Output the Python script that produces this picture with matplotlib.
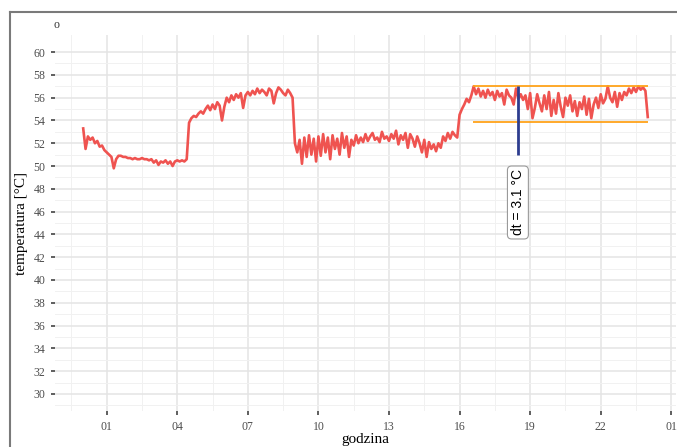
import numpy as np
import matplotlib
matplotlib.use("Agg")
import matplotlib.pyplot as plt
from matplotlib.lines import Line2D

# hourly temperature record, one reading every 6 minutes (hours 0.0 .. 24.0)
hours = np.round(np.arange(0, 241) * 0.1, 1)
temperature = [
    53.3, 51.5, 52.6, 52.3, 52.5, 52.0, 52.2, 51.7, 51.8, 51.4,
    51.2, 51.0, 50.8, 49.8, 50.6, 50.9, 50.9, 50.8, 50.8, 50.7,
    50.7, 50.6, 50.7, 50.6, 50.6, 50.7, 50.6, 50.6, 50.5, 50.6,
    50.3, 50.5, 50.1, 50.4, 50.3, 50.5, 50.2, 50.4, 50.0, 50.4,
    50.5, 50.4, 50.5, 50.4, 50.6, 53.8, 54.2, 54.4, 54.3, 54.6,
    54.8, 54.6, 55.0, 55.3, 54.9, 55.4, 55.0, 55.6, 55.3, 54.0,
    55.2, 56.0, 55.6, 56.2, 55.8, 56.3, 56.0, 56.4, 55.1, 56.2,
    56.5, 56.2, 56.6, 56.3, 56.8, 56.4, 56.7, 56.5, 56.2, 56.8,
    56.6, 55.5, 56.4, 56.9, 56.7, 56.4, 56.2, 56.7, 56.4, 56.0,
    52.0, 51.2, 52.3, 50.2, 52.5, 50.8, 52.7, 51.0, 52.4, 50.4,
    52.6, 50.9, 52.8, 51.2, 52.5, 50.6, 52.7, 51.5, 52.4, 51.0,
    52.9, 51.6, 52.6, 50.8, 52.3, 51.8, 52.7, 52.0, 52.5, 52.1,
    52.8, 52.2, 52.6, 52.9, 52.3, 52.5, 52.1, 53.0, 52.4, 52.6,
    52.2, 52.8, 52.4, 53.1, 51.9, 52.7, 52.3, 52.9, 51.6, 52.8,
    52.4, 51.7, 52.6, 52.0, 51.2, 52.3, 50.8, 52.1, 51.5, 51.9,
    51.3, 52.0, 51.6, 52.6, 52.2, 52.9, 52.4, 53.0, 52.7, 52.5,
    54.5, 55.0, 55.4, 55.9, 55.6, 56.2, 57.0, 56.3, 56.8, 56.1,
    56.6, 56.0, 56.7, 56.2, 56.5, 55.8, 56.6, 56.1, 56.4, 55.4,
    56.7, 56.2, 56.0, 55.4, 56.8, 55.9, 56.3, 55.8, 56.2, 55.0,
    56.4, 54.2, 55.1, 56.3, 55.5, 54.8, 56.2, 55.0, 56.5, 54.4,
    55.8, 54.6, 56.4, 55.2, 54.3, 56.0, 55.3, 56.2, 54.8, 55.7,
    54.4, 55.6, 55.0, 56.1, 54.5, 55.9, 54.2, 55.4, 56.0, 55.1,
    56.3, 55.5, 55.9, 57.0, 56.0, 55.6, 56.5, 55.2, 56.4, 55.8,
    56.5, 56.2, 56.8, 56.4, 56.9, 56.5, 57.0, 56.7, 56.9, 56.6,
    54.3,
]

# evening band: upper / lower bound and its span
band_start, band_end = 16.55, 24.0
band_upper, band_lower = 57.0, 53.9
dt_hour, dt_bottom, dt_label_y = 18.48, 51.0, 46.8
dt_text = "dt = 3.1 °C"

x_ticks = [1, 4, 7, 10, 13, 16, 19, 22, 25]
x_tick_labels = ["01", "04", "07", "10", "13", "16", "19", "22", "01"]
y_ticks = list(range(30, 61, 2))

serif = ["Liberation Serif", "DejaVu Serif"]

fig = plt.figure(figsize=(6.77, 4.47), dpi=100)
ax = fig.add_axes([0.0812, 0.0805, 0.9173, 0.8412])

# page frame
fig.add_artist(Line2D([0.0148, 0.0148], [0.0, 0.973], color="#7a7a7a", lw=1.5, transform=fig.transFigure))
fig.add_artist(Line2D([0.0148, 1.0], [0.973, 0.973], color="#7a7a7a", lw=1.5, transform=fig.transFigure))
fig.text(0.084, 0.943, "o", fontsize=8.5, family=serif, color="#333333", ha="center", va="center")

ax.set_facecolor("white")
for s in ax.spines.values():
    s.set_visible(False)

ax.set_xlim(-1.2, 25.2)
ax.set_ylim(28.5, 61.5)
ax.set_xticks(x_ticks)
ax.set_xticklabels(x_tick_labels)
ax.set_xticks([x + 1.5 for x in x_ticks[:-1]] + [-0.5], minor=True)
ax.set_yticks(y_ticks)
ax.set_yticks([y + 1 for y in y_ticks[:-1]] + [29], minor=True)

ax.grid(which="major", color="#e4e4e4", lw=1.1)
ax.grid(which="minor", color="#f1f1f1", lw=0.7)
ax.set_axisbelow(True)
ax.tick_params(which="major", direction="out", length=3, width=1.1, color="#333333",
               labelsize=8.5, labelcolor="#4d4d4d", pad=4)
ax.tick_params(which="minor", length=0)
for lab in ax.get_xticklabels() + ax.get_yticklabels():
    lab.set_family(serif)

ax.plot(hours, temperature, color="#ef5350", lw=1.9, zorder=3)

ax.hlines([band_upper, band_lower], band_start, band_end, color="#ffa31a", lw=1.3, zorder=4)
ax.vlines(dt_hour, dt_bottom, band_upper, color="#2e3d8f", lw=2.0, zorder=5)
ax.text(dt_hour, dt_label_y, dt_text, rotation=90, ha="center", va="center",
        fontsize=10, family=["Liberation Sans", "DejaVu Sans"], color="black", zorder=6,
        bbox=dict(boxstyle="round,pad=0.25,rounding_size=0.3", fc="white", ec="#9a9a9a", lw=0.8))

ax.set_xlabel("godzina", family=serif, fontsize=11, labelpad=0)
ax.set_ylabel("temperatura [°C]", family=serif, fontsize=11, labelpad=4)

fig.savefig("out.png", dpi=100)
